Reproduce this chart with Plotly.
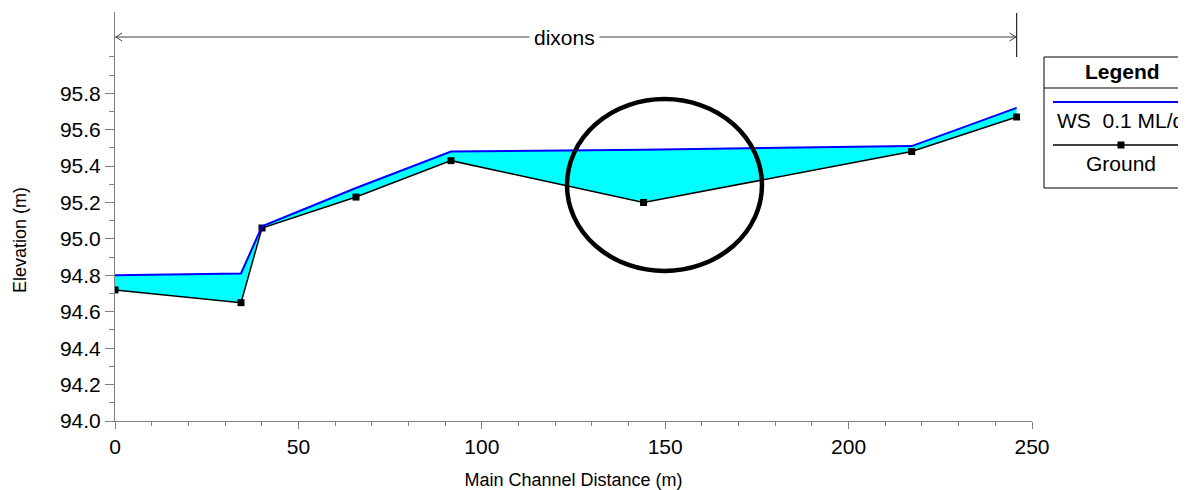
import plotly.graph_objects as go

# ---- data ----
station = [0.0, 34.35, 40.08, 65.7, 91.6, 144.1, 217.2, 245.8]
ground = [94.72, 94.65, 95.06, 95.23, 95.43, 95.20, 95.48, 95.67]
ws = [94.80, 94.81, 95.07, 95.28, 95.48, 95.49, 95.51, 95.72]
ws_name = "WS\u00a0 0.1 ML/d"
ground_name = "Ground"
reach_name = "dixons"
y_ticks = [94.0, 94.2, 94.4, 94.6, 94.8, 95.0, 95.2, 95.4, 95.6, 95.8]
y_minor = [94.1, 94.3, 94.5, 94.7, 94.9, 95.1, 95.3, 95.5, 95.7, 95.9, 96.0]
x_ticks = [0, 50, 100, 150, 200, 250]

# ---- layout geometry (page pixels; the page body adds an 8px offset) ----
PAGE_W, PAGE_H = 1186, 490
OFF = 8
L, R, T, B = 115, 1032, 12, 421
PW, PH = R - L, B - T


def px(x):
    return (x - L) / PW


def py(y):
    return (B - y) / PH


FONT = "Arial, Liberation Sans, sans-serif"
TICK_SIZE = 21
TITLE_SIZE = 18
LEG_SIZE = 21

fig = go.Figure()

# water area between WS and ground
fig.add_trace(go.Scatter(
    x=station + station[::-1], y=ws + ground[::-1],
    fill="toself", fillcolor="#00FFFF", mode="none",
    hoverinfo="skip", showlegend=False))

fig.add_trace(go.Scatter(
    x=station, y=ground, mode="lines+markers", name=ground_name,
    line=dict(color="black", width=1.5),
    marker=dict(symbol="square", size=7, color="black"),
    showlegend=False))

fig.add_trace(go.Scatter(
    x=station, y=ws, mode="lines", name=ws_name,
    line=dict(color="#0000FF", width=2), showlegend=False))

shapes = []
annotations = []

# reach annotation on top
yl = 37
shapes.append(dict(type="line", xref="paper", yref="paper",
                   x0=px(L), x1=px(1016.7), y0=py(yl), y1=py(yl),
                   line=dict(color="#404040", width=1)))
shapes.append(dict(type="line", xref="paper", yref="paper",
                   x0=px(1016.7), x1=px(1016.7), y0=py(13), y1=py(57),
                   line=dict(color="black", width=1)))
# arrowheads
shapes.append(dict(type="path", xref="paper", yref="paper",
                   path=f"M {px(122)} {py(yl-4)} L {px(L+1)} {py(yl)} L {px(122)} {py(yl+4)}",
                   line=dict(color="#404040", width=1)))
shapes.append(dict(type="path", xref="paper", yref="paper",
                   path=f"M {px(1009.5)} {py(yl-4)} L {px(1016)} {py(yl)} L {px(1009.5)} {py(yl+4)}",
                   line=dict(color="#404040", width=1)))
annotations.append(dict(xref="paper", yref="paper", x=px(564), y=py(yl),
                        text=reach_name, showarrow=False, bgcolor="white",
                        font=dict(family=FONT, size=21, color="black"),
                        xanchor="center", yanchor="middle", borderpad=4))

# highlight circle
shapes.append(dict(type="circle", xref="paper", yref="paper",
                   x0=px(567), x1=px(762), y0=py(271), y1=py(99),
                   line=dict(color="black", width=4.5)))

# custom legend box
shapes.append(dict(type="rect", xref="paper", yref="paper",
                   x0=px(1044), x1=px(1200), y0=py(188), y1=py(57),
                   line=dict(color="black", width=1), fillcolor="white"))
shapes.append(dict(type="line", xref="paper", yref="paper",
                   x0=px(1044), x1=px(1200), y0=py(88), y1=py(88),
                   line=dict(color="black", width=1)))
shapes.append(dict(type="line", xref="paper", yref="paper",
                   x0=px(1053), x1=px(1200), y0=py(102), y1=py(102),
                   line=dict(color="#0000FF", width=2)))
shapes.append(dict(type="line", xref="paper", yref="paper",
                   x0=px(1053), x1=px(1200), y0=py(145), y1=py(145),
                   line=dict(color="black", width=1.5)))
shapes.append(dict(type="rect", xref="paper", yref="paper",
                   x0=px(1117.5), x1=px(1124.5), y0=py(148.5), y1=py(141.5),
                   line=dict(color="black", width=0), fillcolor="black"))
annotations.append(dict(xref="paper", yref="paper", x=px(1122), y=py(71),
                        text="<b>Legend</b>", showarrow=False,
                        font=dict(family=FONT, size=LEG_SIZE, color="black"),
                        xanchor="center", yanchor="middle"))
annotations.append(dict(xref="paper", yref="paper", x=px(1055), y=py(121),
                        text=ws_name, showarrow=False,
                        font=dict(family=FONT, size=LEG_SIZE, color="black"),
                        xanchor="left", yanchor="middle"))
annotations.append(dict(xref="paper", yref="paper", x=px(1121), y=py(163),
                        text=ground_name, showarrow=False,
                        font=dict(family=FONT, size=LEG_SIZE, color="black"),
                        xanchor="center", yanchor="middle"))

# y axis title
annotations.append(dict(xref="paper", yref="paper", x=px(20), y=py(240),
                        text="Elevation (m)", showarrow=False, textangle=-90,
                        font=dict(family=FONT, size=TITLE_SIZE, color="black"),
                        xanchor="center", yanchor="middle"))

fig.update_layout(
    width=PAGE_W - OFF, height=PAGE_H - OFF,
    margin=dict(l=L - OFF, r=PAGE_W - R, t=T - OFF, b=PAGE_H - B),
    paper_bgcolor="white", plot_bgcolor="white",
    font=dict(family=FONT, size=TICK_SIZE, color="black"),
    shapes=shapes, annotations=annotations,
    showlegend=False,
)

fig.update_xaxes(
    range=[0, 250], tickvals=x_ticks, ticktext=[str(v) for v in x_ticks],
    automargin=False,
    showgrid=False, zeroline=False, showline=True, linecolor="#808080", linewidth=1,
    ticks="outside", ticklen=7, tickcolor="#808080", tickwidth=1,
    minor=dict(dtick=10, tick0=0, ticks="outside", ticklen=4, tickcolor="#808080", showgrid=False),
    tickfont=dict(family=FONT, size=TICK_SIZE, color="black"),
    title=dict(text="Main Channel Distance (m)", standoff=19,
               font=dict(family=FONT, size=TITLE_SIZE, color="black")),
)

fig.update_yaxes(
    range=[94.0, 94.0 + PH / 182.06], tickvals=y_ticks,
    ticktext=[f"{v:.1f}" for v in y_ticks],
    automargin=False,
    showgrid=False, zeroline=False, showline=True, linecolor="#808080", linewidth=1,
    ticks="outside", ticklen=9, tickcolor="#808080", tickwidth=1,
    minor=dict(tickvals=y_minor, ticks="outside", ticklen=5, tickcolor="#808080", showgrid=False),
    tickfont=dict(family=FONT, size=TICK_SIZE, color="black"),
)

fig.write_html("out.html")
